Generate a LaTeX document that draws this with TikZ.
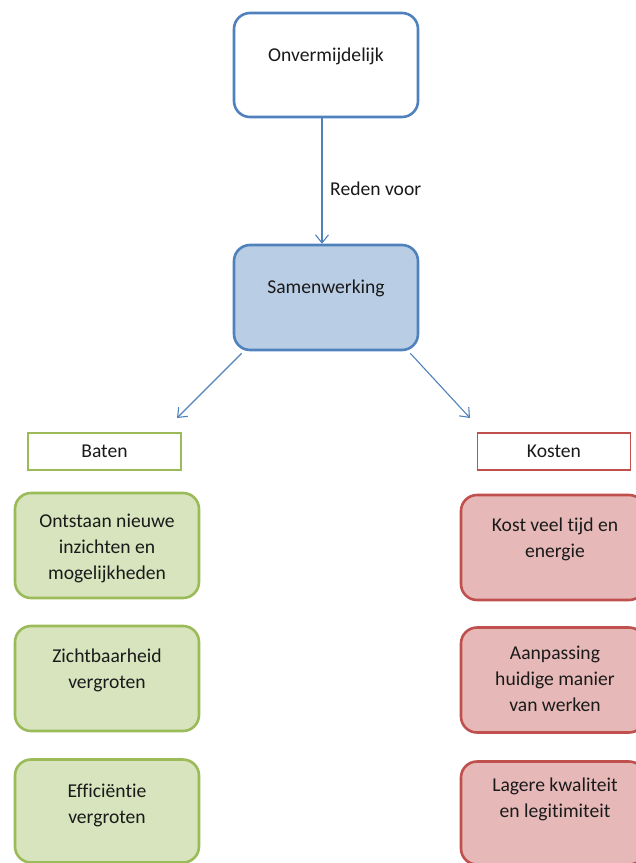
\documentclass[tikz,border=0pt]{standalone}
\usepackage{fontspec}
\setmainfont[Ligatures=NoCommon]{Carlito}
\usetikzlibrary{arrows.meta}
\definecolor{bluebd}{HTML}{4F81BD}
\definecolor{bluefill}{HTML}{B9CDE5}
\definecolor{greenbd}{HTML}{9BBB59}
\definecolor{greenfill}{HTML}{D7E4BD}
\definecolor{redbd}{HTML}{C0504D}
\definecolor{redfill}{HTML}{E6B9B8}
\definecolor{txtcol}{HTML}{1A1A1A}
\tikzset{
  x=1pt, y=-1pt,
  every node/.style={font=\fontsize{19.6}{26}\selectfont, text=txtcol},
  rbox/.style={draw, rounded corners=16pt, line width=2.6pt, minimum width=184pt, inner sep=0pt},
  bluebox/.style={rbox, draw=bluebd},
  greenbox/.style={rbox, draw=greenbd, fill=greenfill},
  redbox/.style={rbox, draw=redbd, fill=redfill},
  labbox/.style={draw, line width=1.3pt, minimum width=153pt, minimum height=37pt, inner sep=0pt},
  txt/.style={align=center, inner sep=0pt},
  conn/.style={draw=bluebd, line width=1.1pt, -{Straight Barb[length=8pt,width=13pt,line width=1.1pt]}},
}
\begin{document}
\begin{tikzpicture}
\useasboundingbox (0,0) rectangle (636,863);
\clip (0,0) rectangle (636,863);
% top
\node[bluebox, fill=white, minimum height=104pt] (top) at (326,65) {};
\node[txt] (toptxt) at (326,56) {Onvermijdelijk};
% middle
\node[bluebox, fill=bluefill, minimum height=105pt] (sam) at (326,297.5) {};
\node[txt] (samtxt) at (326,288) {Samenwerking};
% arrow top->sam
\draw[conn] ([xshift=-4pt]top.south) -- ([xshift=-4pt]sam.north);
\node[txt, anchor=west] (reden) at (330,189) {Reden voor};
% diagonal arrows
\coordinate (lt) at (177,418);
\coordinate (rt) at (470,418);
\draw[conn] ([xshift=9pt,yshift=-2pt]sam.south west) -- (lt);
\draw[conn] ([xshift=-9pt,yshift=-2pt]sam.south east) -- (rt);
% labels
\node[labbox, draw=greenbd] (baten) at (104.5,451.5) {Baten};
\node[labbox, draw=redbd] (kosten) at (554,451.5) {Kosten};
% green boxes
\node[greenbox, minimum height=105pt] (g1) at (107,545.5) {};
\node[txt] (g1t) at (107,548) {Ontstaan nieuwe\\inzichten en\\mogelijkheden};
\node[greenbox, minimum height=105pt] (g2) at (107,678.5) {};
\node[txt] (g2t) at (107,670) {Zichtbaarheid\\vergroten};
\node[greenbox, minimum height=103pt] (g3) at (107,811) {};
\node[txt] (g3t) at (107,805) {Efficiëntie\\vergroten};
% red boxes
\node[redbox, minimum height=105pt] (r1) at (553,547.5) {};
\node[txt] (r1t) at (555,539.5) {Kost veel tijd en\\energie};
\node[redbox, minimum height=105pt] (r2) at (553,680) {};
\node[txt] (r2t) at (555,679) {Aanpassing\\huidige manier\\van werken};
\node[redbox, minimum height=103pt] (r3) at (553,813) {};
\node[txt] (r3t) at (555,799.5) {Lagere kwaliteit\\en legitimiteit};
\end{tikzpicture}
\end{document}
